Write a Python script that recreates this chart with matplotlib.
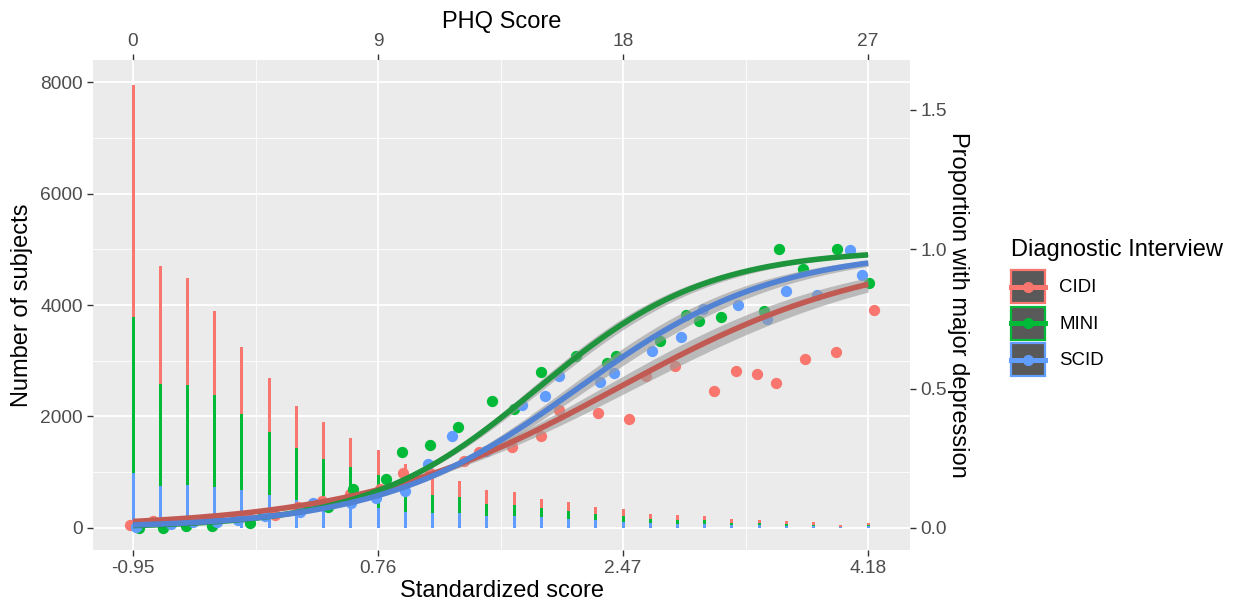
import numpy as np
import matplotlib
matplotlib.use("Agg")
import matplotlib.pyplot as plt
from matplotlib.lines import Line2D
from matplotlib.patches import Patch
from matplotlib.legend_handler import HandlerTuple, HandlerLine2D

plt.rcParams['font.family'] = ['Liberation Sans', 'DejaVu Sans']

# ---------------- data ----------------
phq_scores = list(range(28))
interviews = ["CIDI", "MINI", "SCID"]
point_colors = {"CIDI": "#F8766D", "MINI": "#00BA38", "SCID": "#619CFF"}
curve_colors = {"CIDI": "#C25A54", "MINI": "#1E943C", "SCID": "#5282D3"}

# number of subjects at each PHQ score, per interview (stacked: SCID, MINI, CIDI)
n_scid = [980, 755, 770, 735, 690, 590, 505, 415, 380, 360, 290, 270, 268, 215,
          215, 197, 165, 137, 105, 84, 72, 65, 48, 45, 36, 30, 12, 30]
n_mini = [2810, 1825, 1795, 1650, 1355, 1140, 925, 820, 715, 590, 450, 322, 294, 215,
          195, 153, 147, 114, 105, 74, 71, 78, 47, 39, 30, 24, 12, 24]
n_cidi = [4160, 2120, 1915, 1505, 1195, 955, 765, 660, 525, 450, 410, 308, 288, 250,
          236, 173, 160, 127, 130, 97, 82, 79, 60, 59, 52, 46, 30, 38]

# observed proportion with major depression (points, slightly jittered in x)
x_cidi = [-0.11, 0.72, 2.03, 2.77, 4.18, 5.22, 6.05, 6.93, 7.97, 9.07, 9.91, 10.91, 12.14, 12.72,
          13.91, 14.99, 15.65, 17.07, 18.2, 18.85, 19.91, 21.34, 22.14, 22.91, 23.62, 24.69, 25.83, 27.2]
p_cidi = [0.011, 0.025, 0.026, 0.032, 0.038, 0.047, 0.076, 0.097, 0.122, 0.139, 0.198, 0.196, 0.241, 0.272,
          0.29, 0.331, 0.423, 0.411, 0.39, 0.546, 0.581, 0.492, 0.563, 0.551, 0.519, 0.606, 0.633, 0.782]
x_mini = [0.23, 1.11, 1.93, 2.89, 4.30, 4.79, 6.32, 7.18, 8.09, 9.28, 9.89, 10.91, 11.93, 13.2,
          14.01, 14.98, 16.26, 17.4, 17.74, 19.36, 20.32, 20.79, 21.6, 23.18, 23.73, 24.6, 25.85, 27.04]
p_mini = [0.0, 0.0, 0.007, 0.007, 0.019, 0.05, 0.073, 0.076, 0.14, 0.176, 0.273, 0.298, 0.361, 0.457,
          0.426, 0.561, 0.617, 0.591, 0.618, 0.671, 0.764, 0.744, 0.758, 0.78, 1.0, 0.928, 1.0, 0.878]
x_scid = [0.1, 1.38, 2.2, 3.1, 3.87, 4.85, 6.13, 6.62, 8.0, 8.93, 9.99, 10.85, 11.71, 12.96,
          14.28, 15.14, 15.66, 17.16, 17.68, 19.05, 20.13, 20.95, 22.24, 23.3, 23.98, 25.14, 26.32, 26.77]
p_scid = [0.005, 0.013, 0.02, 0.022, 0.029, 0.043, 0.058, 0.091, 0.089, 0.109, 0.133, 0.229, 0.33, 0.277,
          0.441, 0.474, 0.545, 0.525, 0.557, 0.635, 0.684, 0.786, 0.80, 0.75, 0.85, 0.836, 0.998, 0.908]

# fitted logistic curves (logit p = intercept + slope * PHQ)
fit_intercept = {"CIDI": -3.73, "MINI": -4.75, "SCID": -4.52}
fit_slope = {"CIDI": 0.21, "MINI": 0.32, "SCID": 0.277}
# confidence band half-width on logit scale: sqrt(w0^2 + (k*(x-c))^2)
band_w0 = {"CIDI": 0.05, "MINI": 0.04, "SCID": 0.05}
band_k = {"CIDI": 0.012, "MINI": 0.010, "SCID": 0.012}
band_c = 8.0

phq_ticks = [0, 9, 18, 27]
std_labels = ["-0.95", "0.76", "2.47", "4.18"]
phq_minor = [4.5, 13.5, 22.5]
count_ticks = [0, 2000, 4000, 6000, 8000]
count_minor = [1000, 3000, 5000, 7000]
prop_ticks = [0.0, 0.5, 1.0, 1.5]
prop_scale = 5000  # 1.0 proportion == 5000 subjects on the primary axis

# ---------------- plot ----------------
W, H = 1235, 608
fig = plt.figure(figsize=(W / 100, H / 100), dpi=100)
pl, pr, pt, pb = 93, 910, 60, 550
ax = fig.add_axes([pl / W, 1 - pb / H, (pr - pl) / W, (pb - pt) / H])
ax.set_facecolor('#EBEBEB')
for s in ax.spines.values():
    s.set_visible(False)

ax.set_xlim(-1.47, 28.54)
ax.set_ylim(-395, 8395)

ax.set_xticks(phq_ticks)
ax.set_xticklabels(std_labels)
ax.set_xticks(phq_minor, minor=True)
ax.set_yticks(count_ticks)
ax.set_yticks(count_minor, minor=True)
ax.grid(which='major', color='white', lw=1.3)
ax.grid(which='minor', color='white', lw=0.6)
ax.set_axisbelow(True)

tick_kw = dict(colors='#333333', labelcolor='#4D4D4D', labelsize=13.8, length=4.5, width=1.0, pad=3)
ax.tick_params(which='major', **tick_kw)
ax.tick_params(which='minor', length=0)

# stacked bars
series_n = {"SCID": n_scid, "MINI": n_mini, "CIDI": n_cidi}
bottom = np.zeros(len(phq_scores))
for name in ["SCID", "MINI", "CIDI"]:
    vals = np.array(series_n[name], dtype=float)
    ax.bar(phq_scores, vals, width=0.11, bottom=bottom, color=point_colors[name],
           linewidth=0, zorder=2)
    bottom += vals

# points
series_pts = {"CIDI": (x_cidi, p_cidi), "MINI": (x_mini, p_mini), "SCID": (x_scid, p_scid)}
for name in interviews:
    xs, ps = series_pts[name]
    ax.scatter(xs, np.array(ps) * prop_scale, s=66, color=point_colors[name],
               linewidths=0, zorder=3)

# fitted curves + bands
xf = np.linspace(phq_scores[0], phq_scores[-1], 300)
expit = lambda z: 1.0 / (1.0 + np.exp(-z))
for name in interviews:
    eta = fit_intercept[name] + fit_slope[name] * xf
    w = np.sqrt(band_w0[name] ** 2 + (band_k[name] * (xf - band_c)) ** 2)
    ax.fill_between(xf, expit(eta - w) * prop_scale, expit(eta + w) * prop_scale,
                    color='#9A9A9A', alpha=0.6, linewidth=0, zorder=4)
    ax.plot(xf, expit(eta) * prop_scale, color=curve_colors[name], lw=4.0,
            solid_capstyle='butt', zorder=5)

ax.set_xlabel('Standardized score', fontsize=17, labelpad=2)
ax.set_ylabel('Number of subjects', fontsize=17, labelpad=5)

top = ax.secondary_xaxis('top')
top.set_xticks(phq_ticks)
top.set_xticklabels([str(t) for t in phq_ticks])
top.tick_params(**tick_kw)
top.set_xlabel('PHQ Score', fontsize=17, labelpad=3)
for s in top.spines.values():
    s.set_visible(False)

right = ax.secondary_yaxis('right', functions=(lambda y: y / prop_scale, lambda p: p * prop_scale))
right.set_yticks(prop_ticks)
right.set_yticklabels([f"{t:.1f}" for t in prop_ticks])
right.tick_params(**tick_kw)
right.set_ylabel('Proportion with major depression', fontsize=17, rotation=-90, labelpad=16)
for s in right.spines.values():
    s.set_visible(False)


# legend
class CenteredLineHandler(HandlerLine2D):
    """Draw the legend line through the vertical centre of the key box."""
    def create_artists(self, legend, orig_handle, xdescent, ydescent, width, height, fontsize, trans):
        return super().create_artists(legend, orig_handle, xdescent, 2 * ydescent,
                                      width, height, fontsize, trans)


handles = [(Patch(facecolor='#595959', edgecolor=point_colors[n], linewidth=1.6),
            Line2D([], [], color=point_colors[n], lw=3.6, marker='o', ms=7))
           for n in interviews]
leg = fig.legend(handles, interviews,
                 handler_map={tuple: HandlerTuple(ndivide=1, pad=0), Line2D: CenteredLineHandler()},
                 title='Diagnostic Interview', loc='upper left',
                 bbox_to_anchor=(1011 / W, 1 - 239 / H), frameon=False,
                 prop={'size': 13.4}, title_fontproperties={'size': 17},
                 handlelength=1.85, handleheight=2.35, labelspacing=0.19, handletextpad=0.75,
                 borderpad=0, borderaxespad=0, alignment='left')
leg._legend_box.sep = 6.5

fig.savefig('out.png', dpi=100)
